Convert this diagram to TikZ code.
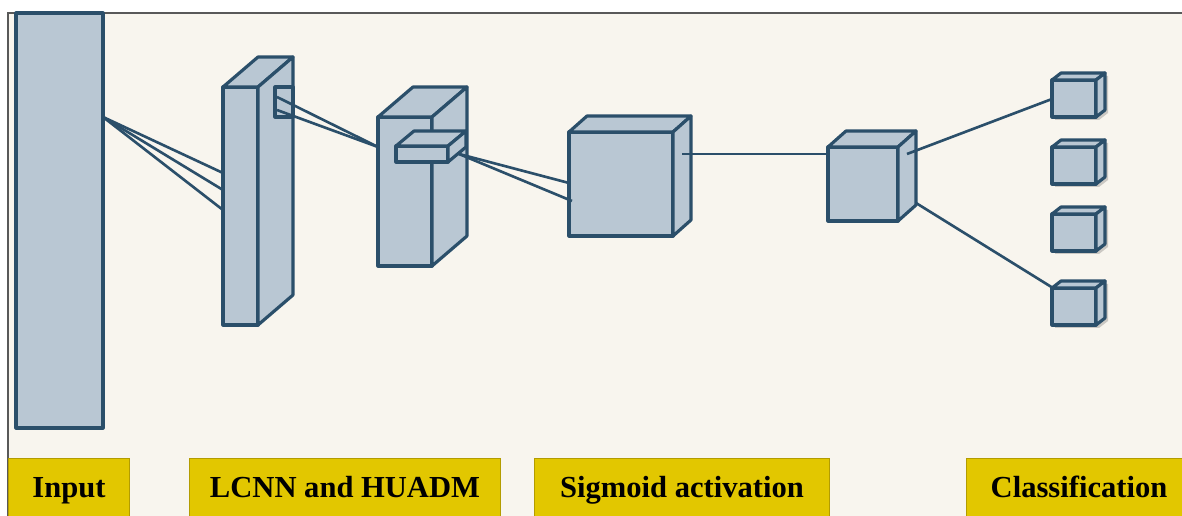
\documentclass[tikz,border=0pt]{standalone}
\usepackage{fontspec}
\setmainfont{Liberation Serif}

\definecolor{cubefill}{HTML}{B9C7D3}
\definecolor{cubeline}{HTML}{2B4F6A}
\definecolor{paper}{HTML}{F8F5EE}
\definecolor{tagfill}{HTML}{E2C700}
\definecolor{tagline}{HTML}{B39C00}

% cuboid: x, y (front top-left), width, height, depth dx, depth dy
\newcommand{\cuboid}[6]{%
  \draw[cube] (#1,#2) rectangle ++(#3,#4);
  \draw[cube] (#1,#2) -- ++(#5,-#6) -- ++(#3,0) -- ++(-#5,#6) -- cycle;
  \draw[cube] ({#1+#3},#2) -- ++(#5,-#6) -- ++(0,#4) -- ++(-#5,#6) -- cycle;
}

\begin{document}
\begin{tikzpicture}[x=0.02cm, y=-0.02cm,
  cube/.style={draw=cubeline, fill=cubefill, line width=1.8pt, line join=round},
  link/.style={draw=cubeline, line width=1.5pt},
  tag/.style={draw=tagline, fill=tagfill, line width=0.6pt, anchor=north west,
    inner sep=0pt, minimum height=1.28cm, text height=12pt, text depth=4pt,
    font=\fontsize{17.4}{20}\selectfont\bfseries}]

  % page and frame
  \clip (0,0) rectangle (1182,516);
  \fill[white] (0,0) rectangle (1182,516);
  \fill[paper] (8,13) rectangle (1182,516);
  \draw[black!65, line width=1.1pt] (8,516) -- (8,13) -- (1182,13);

  % input layer
  \draw[cube] (16,13) rectangle (103,428);

  % LCNN block with its window
  \cuboid{223}{87}{35}{238}{35}{30}
  \draw[cube] (275,87) rectangle (293,117);

  % HUADM block with its slab
  \cuboid{378}{117}{54}{149}{35}{30}
  \cuboid{396}{146}{52}{16}{18}{15}

  % sigmoid cube
  \cuboid{569}{132}{104}{104}{18}{16}

  % dense cube
  \cuboid{828}{147}{70}{74}{18}{16}

  % output cubes (with shadow)
  \foreach \oy in {80,147,214,288}{
    \fill[black, opacity=0.18, shift={(3,3)}] (1052,{\oy+37}) -- (1052,\oy) -- (1061,{\oy-7})
      -- (1105,{\oy-7}) -- (1105,{\oy+30}) -- (1096,{\oy+37}) -- cycle;
    \cuboid{1052}{\oy}{44}{37}{9}{7}
  }

  % connection points
  \coordinate (inout) at (103,117);
  \coordinate (lcA) at (223,173);
  \coordinate (lcB) at (223,190);
  \coordinate (lcC) at (223,210);
  \coordinate (winA) at (277,97);
  \coordinate (winB) at (277,110);
  \coordinate (huin) at (378,147);
  \coordinate (slab) at (459,154);
  \coordinate (sgA) at (569,183);
  \coordinate (sgB) at (572,201);
  \coordinate (sgout) at (682,154);
  \coordinate (fcin) at (828,154);
  \coordinate (fcA) at (907,154);
  \coordinate (fcB) at (916,203);
  \coordinate (outA) at (1052,99);
  \coordinate (outD) at (1053,288);

  % connections
  \foreach \t in {lcA,lcB,lcC} \draw[link] (inout) -- (\t);
  \draw[link] (winA) -- (huin);
  \draw[link] (winB) -- (huin);
  \draw[link] (slab) -- (sgA);
  \draw[link] (slab) -- (sgB);
  \draw[link] (sgout) -- (fcin);
  \draw[link] (fcA) -- (outA);
  \draw[link] (fcB) -- (outD);

  % stage labels
  \node[tag, minimum width=2.42cm] (inputtag) at (8,458) {Input};
  \node[tag, minimum width=6.22cm] (lcnntag) at (189,458) {LCNN and HUADM};
  \node[tag, minimum width=5.9cm] (sigtag) at (534,458) {Sigmoid activation};
  \node[tag, minimum width=4.5cm] (clstag) at (966,458) {Classification};

\end{tikzpicture}
\end{document}
